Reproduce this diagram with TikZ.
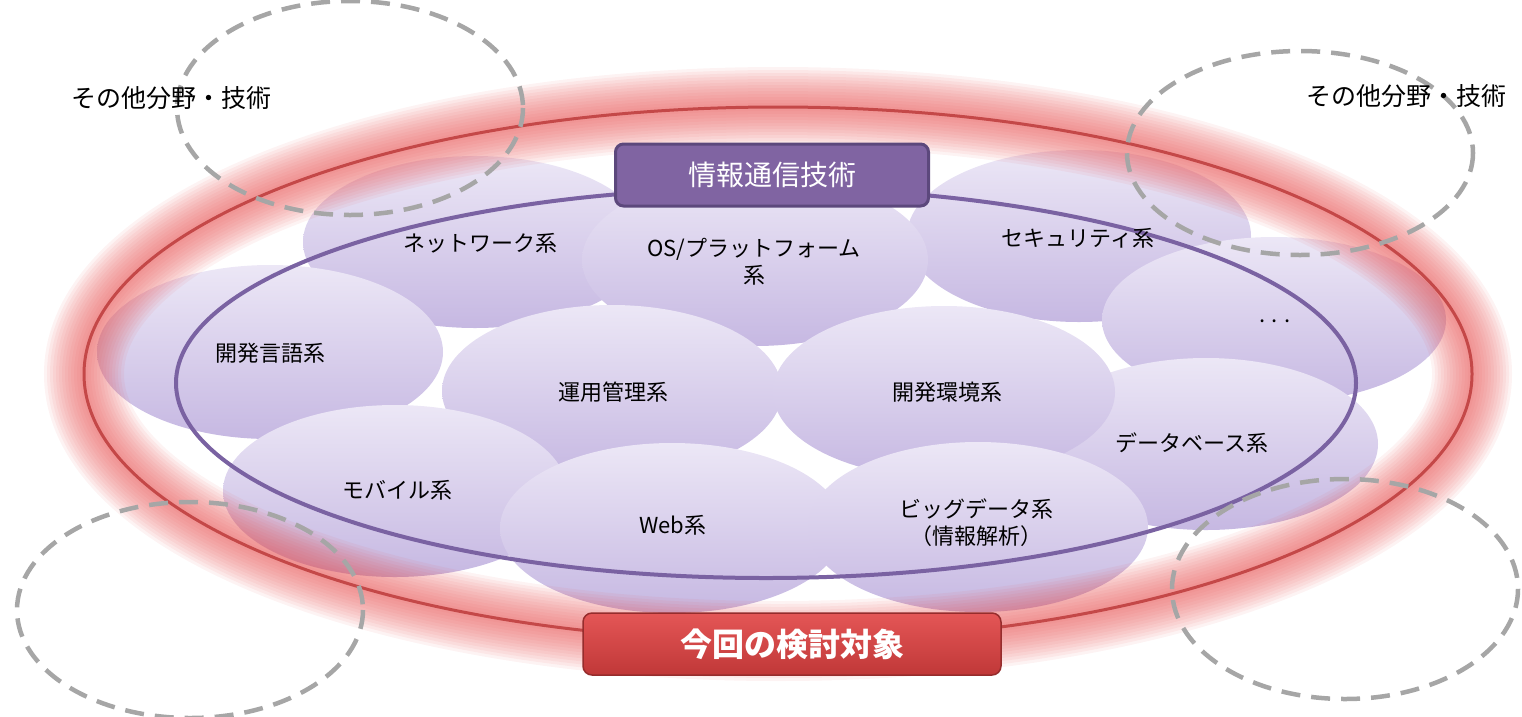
\documentclass[tikz,border=0pt]{standalone}
\usepackage{fontspec}
\newfontfamily\jp{Noto Sans CJK JP}
\usetikzlibrary{shapes.geometric}
\definecolor{bubtop}{RGB}{236,231,246}
\definecolor{bubbot}{RGB}{198,184,226}
\definecolor{glowc}{RGB}{232,88,88}
\definecolor{redline}{RGB}{196,72,72}
\definecolor{purpline}{RGB}{122,98,162}
\definecolor{titlefill}{RGB}{128,100,162}
\definecolor{titledraw}{RGB}{92,72,124}
\definecolor{redtop}{RGB}{228,86,86}
\definecolor{redbot}{RGB}{192,56,56}
\definecolor{reddraw}{RGB}{150,44,44}
\definecolor{dashc}{RGB}{166,166,166}
\tikzset{
  bubble/.style={ellipse, inner sep=0pt, minimum width=344pt, minimum height=172pt,
    top color=bubtop, bottom color=bubbot},
  lbl/.style={font=\jp\fontsize{22}{27}\selectfont, align=center, text=black, inner sep=0pt},
  other/.style={draw=dashc, line width=4.5pt, dash pattern=on 19pt off 11pt},
  sidelbl/.style={font=\jp\fontsize{25}{30}\selectfont, text=black, inner sep=0pt},
}
\begin{document}
\begin{tikzpicture}[x=1pt,y=-1pt]
\useasboundingbox (0,0) rectangle (1522,716);
% bubbles
\node[bubble] (bnet) at (475,242) {};
\node[bubble] (bsec) at (1079,236) {};
\node[bubble, minimum height=166pt] (bdots) at (1274,320) {};
\node[bubble, minimum width=346pt] (bos) at (755,260) {};
\node[bubble, minimum width=346pt, minimum height=174pt] (blang) at (270,352) {};
\node[bubble] (bdb) at (1206,444) {};
\node[bubble, minimum width=340pt] (bops) at (612,391) {};
\node[bubble, minimum width=342pt] (benv) at (944,392) {};
\node[bubble] (bmob) at (395,491) {};
\node[bubble, minimum height=170pt] (bweb) at (672,528) {};
\node[bubble, minimum width=340pt, minimum height=170pt] (bbig) at (978,527) {};
% glow of the red ellipse (translucent, tints the bubbles)
\foreach \w in {80,74,...,8}
  \draw[line width=\w pt, glowc, opacity=0.075] (778,374) ellipse [x radius=694, y radius=267];
\draw[line width=3pt, redline] (778,374) ellipse [x radius=694, y radius=267];
% purple ellipse
\draw[line width=4pt, purpline] (766,383) ellipse [x radius=590, y radius=195];
% labels
\node[lbl] (tnet) at (480,243) {ネットワーク系};
\node[lbl] (tos) at (754,262) {OS/プラットフォーム\\系};
\node[lbl] (tsec) at (1078,238) {セキュリティ系};
\node[lbl] (tdots) at (1275,321) {.\hspace{6pt}.\hspace{6pt}.};
\node[lbl] (tlang) at (270,353) {開発言語系};
\node[lbl] (tops) at (613,392) {運用管理系};
\node[lbl] (tenv) at (947,392) {開発環境系};
\node[lbl] (tdb) at (1192,443) {データベース系};
\node[lbl] (tmob) at (397,490) {モバイル系};
\node[lbl] (tweb) at (673,525) {Web系};
\node[lbl] (tbig) at (976,523) {ビッグデータ系\\（情報解析）};
% dashed "other" ellipses
\draw[other] (350,108) ellipse [x radius=173, y radius=107];
\draw[other] (1300,153) ellipse [x radius=173, y radius=102];
\draw[other] (190,610) ellipse [x radius=173, y radius=108];
\draw[other] (1345,589) ellipse [x radius=173, y radius=110];
\node[sidelbl] (oleft) at (171,98) {その他分野・技術};
\node[sidelbl] (oright) at (1406,96) {その他分野・技術};
% title boxes
\node[draw=titledraw, line width=3pt, fill=titlefill, rounded corners=8pt,
  minimum width=313pt, minimum height=62pt, inner sep=0pt,
  font=\jp\fontsize{28}{32}\selectfont, text=white] (title) at (772,175) {情報通信技術};
\node[draw=reddraw, line width=1.5pt, top color=redtop, bottom color=redbot, rounded corners=9pt,
  minimum width=418pt, minimum height=62pt, inner sep=0pt,
  font=\jp\bfseries\fontsize{32}{36}\selectfont, text=white] (target) at (792,644) {今回の検討対象};
\end{tikzpicture}
\end{document}
